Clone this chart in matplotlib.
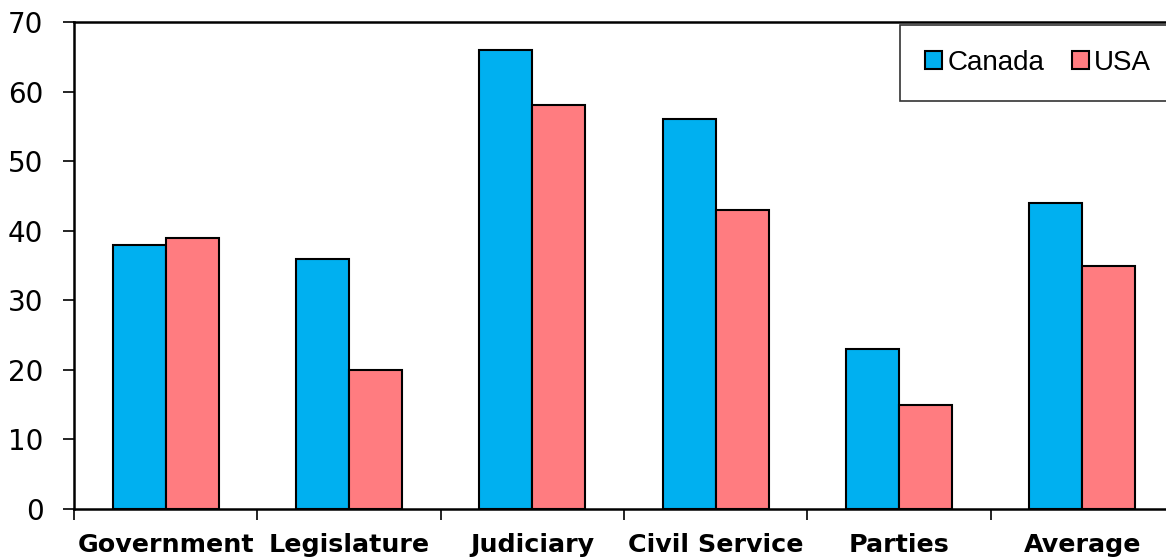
import matplotlib
matplotlib.use("Agg")
import matplotlib.pyplot as plt
import numpy as np
from matplotlib.patches import Patch

categories = ["Government", "Legislature", "Judiciary", "Civil Service", "Parties", "Average"]
canada = [38, 36, 66, 56, 23, 44]
usa = [39, 20, 58, 43, 15, 35]
series_names = ["Canada", "USA"]
colors = ["#00B0F0", "#FF7C80"]

W, H = 1166, 557
fig = plt.figure(figsize=(W / 100, H / 100), dpi=100)
left, right, top, bottom = 74, 1174, 22, 509
ax = fig.add_axes([left / W, 1 - bottom / H, (right - left) / W, (bottom - top) / H])

x = np.arange(len(categories))
bw = 0.289
ax.bar(x - bw / 2, canada, bw, color=colors[0], edgecolor="black", linewidth=1.5, zorder=3)
ax.bar(x + bw / 2, usa, bw, color=colors[1], edgecolor="black", linewidth=1.5, zorder=3)

ax.set_xlim(-0.5, len(categories) - 0.5)
ax.set_ylim(0, 70)
ax.set_yticks(range(0, 71, 10))
ax.tick_params(axis="y", labelsize=20, length=8, width=1.2, direction="out", pad=14)
ax.set_xticks(x)
ax.set_xticklabels(categories, fontsize=18.3, fontweight="bold")
ax.tick_params(axis="x", length=0, pad=17)
ax.set_xticks(np.arange(-0.5, len(categories), 1), minor=True)
ax.tick_params(axis="x", which="minor", length=8, width=1.2, direction="out")
for s in ax.spines.values():
    s.set_linewidth(1.8)

handles = [Patch(facecolor=c, edgecolor="black", linewidth=1.5) for c in colors]
leg = fig.legend(handles, series_names, loc="upper left",
                 bbox_to_anchor=(900 / W, 1 - 25 / H), ncol=2,
                 prop={"family": "Liberation Sans", "size": 20},
                 frameon=True, fancybox=False, borderaxespad=0,
                 handlelength=0.6, handleheight=0.6, handletextpad=0.2,
                 columnspacing=1.0, borderpad=0.9)
leg.get_frame().set_edgecolor("black")
leg.get_frame().set_linewidth(1.2)

fig.savefig("out.png", dpi=100)
